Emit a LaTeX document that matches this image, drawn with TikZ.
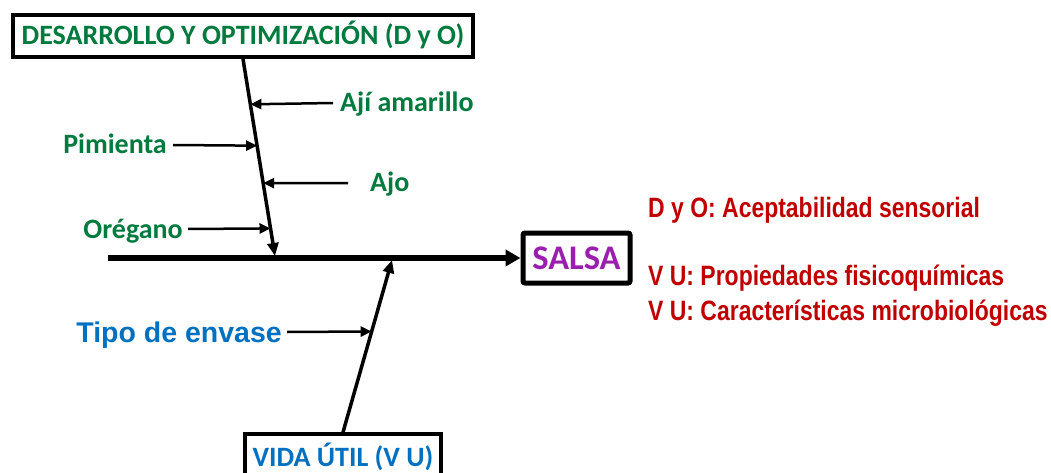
\documentclass[tikz,border=0pt]{standalone}
\usepackage{fontspec}
\setmainfont{Carlito}
\newfontfamily\libfont{Liberation Sans}
\newfontfamily\narrowfont[FakeStretch=0.82]{Liberation Sans}
\usetikzlibrary{arrows.meta,calc}
\definecolor{dgreen}{RGB}{0,122,61}
\definecolor{dred}{RGB}{192,0,0}
\definecolor{dpurple}{RGB}{155,31,174}
\definecolor{dblue}{RGB}{0,112,192}
\tikzset{
  glab/.style={inner sep=0pt, text height=18pt, text depth=0pt, text=dgreen, font=\fontsize{28}{30}\selectfont\bfseries},
  rlab/.style={inner sep=0pt, anchor=west, text height=20pt, text depth=0pt, text=dred, font=\fontsize{28}{30}\narrowfont\bfseries},
  blab/.style={inner sep=0pt, text height=20pt, text depth=0pt, text=dblue, font=\fontsize{28.5}{30}\libfont\bfseries},
  catbox/.style={draw=black, line width=4pt, inner sep=0pt, text height=18pt, text depth=0pt, font=\fontsize{28}{30}\selectfont\bfseries},
  spine/.style={line width=3.5pt, -{Triangle[length=13pt,width=11pt]}},
  twig/.style={line width=2.5pt, -{Triangle[length=11pt,width=10pt]}},
}
\begin{document}
\begin{tikzpicture}[x=1pt,y=-1pt]
\useasboundingbox (0,0) rectangle (1051,473);
% boxes
\node[catbox, text=dgreen, minimum width=460pt, minimum height=42pt] (dyo) at (243,36) {DESARROLLO Y OPTIMIZACIÓN (D y O)};
\node[catbox, text=dpurple, line width=5pt, rounded corners=2pt, minimum width=107pt, minimum height=50pt, text height=22pt, font=\fontsize{34.5}{36}\selectfont\bfseries] (salsa) at (576.5,258) {SALSA};
\node[catbox, text=dblue, line width=3.5pt, minimum width=196pt, minimum height=46pt] (vu) at (343,457) {VIDA ÚTIL (V U)};
% main line
\coordinate (mstart) at (108,258);
\draw[line width=5.5pt, -{Triangle[length=15pt,width=16pt]}] (mstart) -- (salsa.west);
% spines
\coordinate (j1) at (275,256);
\coordinate (j2) at (392,260);
\draw[spine] (dyo.south) -- (j1);
\draw[spine] (vu.north) -- (j2);
% points on spines
\coordinate (p1) at ($(dyo.south)!0.23!(j1)$);
\coordinate (p2) at ($(dyo.south)!0.44!(j1)$);
\coordinate (p3) at ($(dyo.south)!0.63!(j1)$);
\coordinate (p4) at ($(dyo.south)!0.86!(j1)$);
\coordinate (q1) at ($(vu.north)!0.585!(j2)$);
% labels
\node[glab, anchor=west] (aji) at (340,103) {Ají amarillo};
\node[glab, anchor=east] (pim) at (167,145) {Pimienta};
\node[glab, anchor=west] (ajo) at (370,183) {Ajo};
\node[glab, anchor=east] (ore) at (183,229) {Orégano};
\node[blab, anchor=east] (tipo) at (282,332) {Tipo de envase};
% twigs
\draw[twig] ([xshift=-7pt]aji.west) -- (p1);
\draw[twig] ([xshift=6pt]pim.east) -- (p2);
\draw[twig] ([xshift=-22pt]ajo.west) -- (p3);
\draw[twig] ([xshift=5pt]ore.east) -- (p4);
\draw[twig] ([xshift=5pt]tipo.east) -- (q1);
% results
\node[rlab] (r1) at (648,207) {D y O: Aceptabilidad sensorial};
\node[rlab] (r2) at (648,275) {V U: Propiedades fisicoquímicas};
\node[rlab] (r3) at (648,310) {V U: Características microbiológicas};
\end{tikzpicture}
\end{document}
